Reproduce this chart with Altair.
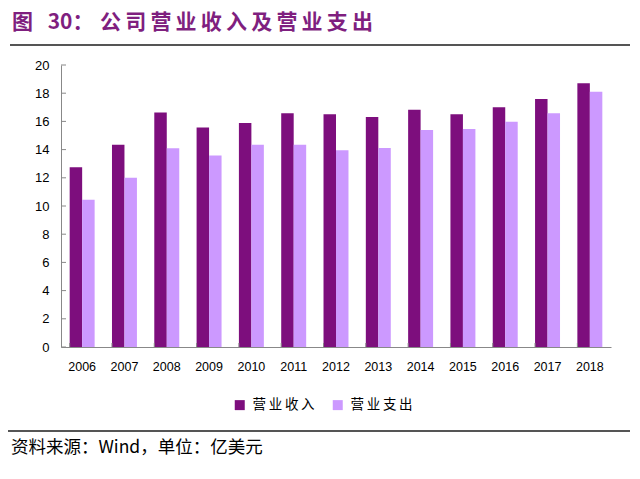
import altair as alt
import pandas as pd

years = ["2006", "2007", "2008", "2009", "2010", "2011", "2012",
         "2013", "2014", "2015", "2016", "2017", "2018"]
revenue = [12.74, 14.35, 16.64, 15.56, 15.89, 16.57, 16.50,
           16.31, 16.83, 16.50, 17.00, 17.59, 18.70]
expense = [10.45, 12.00, 14.09, 13.59, 14.35, 14.35, 13.95,
           14.11, 15.39, 15.46, 15.98, 16.57, 18.11]
series = ["营业收入", "营业支出"]
colors = ["#7D0E7D", "#CC99FF"]
y_ticks = [0, 2, 4, 6, 8, 10, 12, 14, 16, 18, 20]

title_head = "图\u2002\u200930："
title_body = "公司营业收入及营业支出"
source_text = "资料来源：Wind，单位：亿美元"

W, H = 550, 282
THIN = "\u2009"

rows = []
for i, y in enumerate(years):
    rows.append({"year": y, "series": series[0], "value": revenue[i]})
    rows.append({"year": y, "series": series[1], "value": expense[i]})
df = pd.DataFrame(rows)

x_scale = alt.Scale(domain=years, paddingInner=0.41, paddingOuter=0.205)
y_scale = alt.Scale(domain=[0, 20], nice=False)

x_axis = alt.Axis(title=None, labelAngle=0, ticks=False, domainColor="#888888",
                  labelFont="Liberation Sans", labelFontSize=12.5, labelColor="#000000",
                  labelPadding=13)
y_axis = alt.Axis(title=None, values=y_ticks, ticks=False, grid=False, domainColor="#888888",
                  labelFont="Liberation Sans", labelFontSize=13, labelColor="#000000",
                  labelPadding=12, labelOverlap=False)

bars = alt.Chart(df).mark_bar().encode(
    x=alt.X("year:N", scale=x_scale, sort=years, axis=x_axis),
    xOffset=alt.XOffset("series:N", sort=series, scale=alt.Scale(paddingInner=0, paddingOuter=0)),
    y=alt.Y("value:Q", scale=y_scale, axis=y_axis),
    color=alt.Color("series:N", sort=series,
                    scale=alt.Scale(domain=series, range=colors),
                    legend=alt.Legend(title=None, orient="none", legendX=172, legendY=333,
                                      direction="horizontal", symbolType="square", symbolSize=100,
                                      symbolStrokeWidth=0, labelFont="Noto Sans CJK SC",
                                      labelFontSize=13.5, columnPadding=16, labelOffset=6,
                                      labelExpr="join(split(datum.label, ''), '\u2009')")),
)

ydf = pd.DataFrame({"t": y_ticks})
yticks = alt.Chart(ydf).mark_rule(color="#888888", strokeWidth=1).encode(
    y=alt.Y("t:Q", scale=y_scale, axis=y_axis),
    x=alt.value(0), x2=alt.value(5),
)

xdf = pd.DataFrame({"year": years})
xticks = alt.Chart(xdf).mark_rule(color="#888888", strokeWidth=1).encode(
    x=alt.X("year:N", scale=x_scale, sort=years, bandPosition=0, axis=x_axis),
    y=alt.value(H - 4), y2=alt.value(H),
)

one = pd.DataFrame({"a": [0]})
title1 = alt.Chart(one).mark_text(
    text=title_head, align="left", baseline="middle", font="Noto Sans CJK SC",
    fontSize=21, fontWeight="bold", color="#7F1F7F"
).encode(x=alt.value(-49), y=alt.value(-42))
title2 = alt.Chart(one).mark_text(
    text=THIN.join(title_body), align="left", baseline="middle", font="Noto Sans CJK SC",
    fontSize=21, fontWeight="bold", color="#7F1F7F"
).encode(x=alt.value(39), y=alt.value(-42))

top_line = alt.Chart(one).mark_rule(color="#555555", strokeWidth=2).encode(
    x=alt.value(-51), x2=alt.value(569), y=alt.value(-20)
)
bottom_line = alt.Chart(one).mark_rule(color="#555555", strokeWidth=2).encode(
    x=alt.value(-53), x2=alt.value(569), y=alt.value(366)
)
source = alt.Chart(one).mark_text(
    text=source_text, align="left", baseline="middle", font="Noto Sans CJK SC",
    fontSize=17.5, color="#000000"
).encode(x=alt.value(-50), y=alt.value(383))

chart = alt.layer(bars, yticks, xticks, title1, title2, top_line, bottom_line, source).properties(
    width=W, height=H,
    padding={"left": 53, "top": 57, "right": 21, "bottom": 124},
    autosize=alt.AutoSizeParams(type="none"),
).configure_view(stroke=None)

chart.save("out.html", embed_options={"renderer": "svg", "actions": False})
